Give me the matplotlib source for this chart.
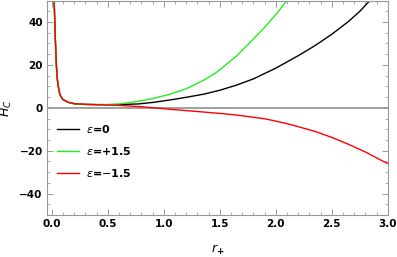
import matplotlib
matplotlib.use('Agg')
import matplotlib.pyplot as plt
from matplotlib.ticker import MultipleLocator

# values
r_black = [0.02, 0.023, 0.026, 0.03, 0.035, 0.04, 0.047, 0.055, 0.07, 0.085, 0.1, 0.15, 0.2, 0.3,
           0.4, 0.5, 0.6, 0.77, 0.9, 1.06, 1.2, 1.36, 1.5, 1.65, 1.8, 2.0, 2.2, 2.35, 2.5,
           2.65, 2.75, 2.84]
h_black = [50, 45, 40.4, 33, 26.5, 20, 14.2, 10.5, 6.5, 4.8, 3.8, 2.5, 1.9, 1.6,
           1.5, 1.45, 1.5, 1.8, 2.5, 3.7, 4.9, 6.4, 8.2, 10.6, 13.5, 18.5, 24.3, 29.0, 34.3,
           40.3, 45.0, 50]

r_green = [0.02, 0.023, 0.026, 0.03, 0.035, 0.04, 0.047, 0.055, 0.07, 0.085, 0.1, 0.15, 0.2, 0.3,
           0.4, 0.5, 0.6, 0.77, 0.9, 1.06, 1.2, 1.36, 1.47, 1.65, 1.76, 1.9, 2.0, 2.1]
h_green = [50, 45, 40.4, 33, 26.5, 20, 14.2, 10.5, 6.5, 4.8, 3.8, 2.5, 1.9, 1.6,
           1.5, 1.55, 1.8, 3.0, 4.3, 6.4, 8.9, 13.0, 16.5, 24.2, 30.0, 37.5, 43.5, 50]

r_red = [0.02, 0.023, 0.026, 0.03, 0.035, 0.04, 0.047, 0.055, 0.07, 0.085, 0.1, 0.15, 0.2, 0.3,
         0.4, 0.5, 0.6, 0.77, 0.86, 1.0, 1.06, 1.2, 1.36, 1.5, 1.65, 1.8, 1.91, 2.0, 2.1,
         2.2, 2.35, 2.5, 2.64, 2.8, 2.95, 3.0]
h_red = [50, 45, 40.4, 33, 26.5, 20, 14.2, 10.5, 6.5, 4.8, 3.8, 2.5, 1.9, 1.6,
         1.45, 1.3, 1.1, 0.6, 0.2, -0.4, -0.7, -1.3, -2.0, -2.6, -3.4, -4.4, -5.2, -6.2, -7.4,
         -8.8, -11.0, -13.8, -16.8, -20.6, -24.7, -26.0]

labels = [r'$\epsilon$=0', r'$\epsilon$=+1.5', r'$\epsilon$=$-$1.5']

fig = plt.figure(figsize=(3.97, 2.57), dpi=100)
ax = fig.add_axes([0.118, 0.163, 0.859, 0.835])

ax.axhline(0, color='#999999', lw=1.3, zorder=1)
ax.plot(r_black, h_black, color='black', lw=1.0, label=labels[0])
ax.plot(r_green, h_green, color='#22ee22', lw=1.0, label=labels[1])
ax.plot(r_red, h_red, color='red', lw=1.0, label=labels[2])

ax.set_xlim(-0.045, 3.0)
ax.set_ylim(-50, 50)
ax.xaxis.set_major_locator(MultipleLocator(0.5))
ax.xaxis.set_minor_locator(MultipleLocator(0.1))
ax.yaxis.set_major_locator(MultipleLocator(20))
ax.yaxis.set_minor_locator(MultipleLocator(5))
ax.xaxis.set_major_formatter(plt.FuncFormatter(lambda v, p: f'{v:.1f}'))
ax.yaxis.set_major_formatter(plt.FuncFormatter(lambda v, p: f'{v:.0f}'.replace('-', '\u2212')))

for s in ax.spines.values():
    s.set_color('#999999')
    s.set_linewidth(0.8)
ax.tick_params(which='both', direction='in', top=True, right=True, color='#999999')
ax.tick_params(which='major', length=4, width=0.7, labelsize=7.5, pad=3)
ax.tick_params(which='minor', length=2, width=0.6)
for t in ax.get_xticklabels() + ax.get_yticklabels():
    t.set_fontweight('bold')

ax.set_xlabel(r'$r_{\mathbf{+}}$', fontsize=9, labelpad=10)
ax.set_ylabel(r'$H_C$', fontsize=9, labelpad=4)

leg = ax.legend(loc='lower left', bbox_to_anchor=(0.0, 0.12), frameon=False,
                fontsize=8, handlelength=2.0, labelspacing=0.9, handletextpad=0.6)
for t in leg.get_texts():
    t.set_fontweight('bold')

fig.savefig('out.png', dpi=100)
